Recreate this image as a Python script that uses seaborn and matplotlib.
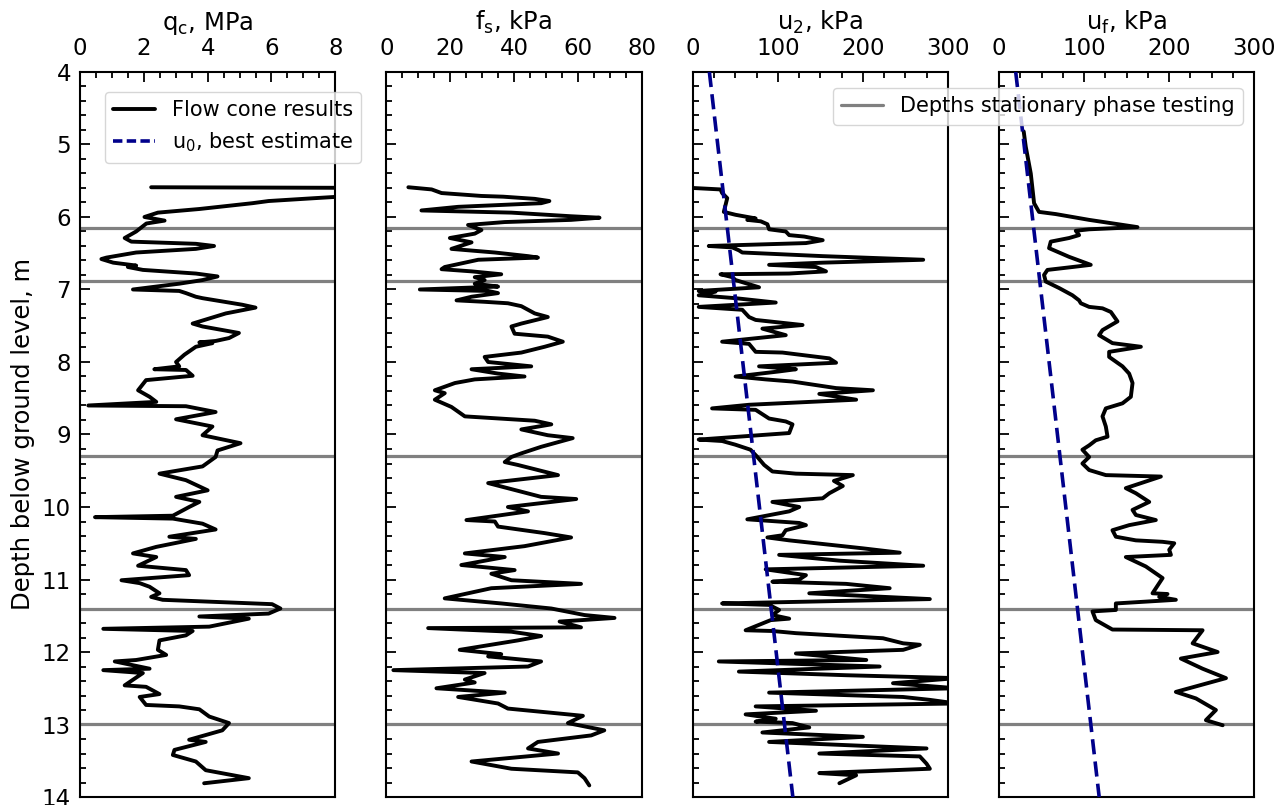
import matplotlib
matplotlib.use("Agg")
import matplotlib.pyplot as plt
import seaborn as sns
from matplotlib.ticker import MultipleLocator
from matplotlib.lines import Line2D

# ---------------- data ----------------
qc_depth = [5.59, 5.60, 5.67, 5.74, 5.78, 5.81, 5.89, 5.94, 6.00, 6.05, 6.09, 6.20, 6.29, 6.34,
            6.37, 6.40, 6.44, 6.49, 6.56, 6.58, 6.63, 6.67, 6.69, 6.73, 6.78, 6.82, 6.87, 6.92,
            7.00, 7.02, 7.05, 7.10, 7.12, 7.21, 7.25, 7.33, 7.47, 7.51, 7.60, 7.67, 7.71, 7.73,
            7.74, 7.79, 7.90, 8.00, 8.06, 8.10, 8.11, 8.19, 8.25, 8.39, 8.48, 8.55, 8.60, 8.61,
            8.69, 8.79, 8.89, 9.01, 9.12, 9.22, 9.31, 9.44, 9.54, 9.63, 9.77, 9.86, 9.93, 10.00,
            10.12, 10.14, 10.16, 10.23, 10.31, 10.41, 10.44, 10.55, 10.64, 10.69, 10.81, 10.87,
            10.94, 11.01, 11.05, 11.10, 11.19, 11.24, 11.28, 11.32, 11.34, 11.40, 11.47, 11.51,
            11.54, 11.65, 11.68, 11.71, 11.77, 11.84, 11.97, 12.04, 12.11, 12.13, 12.23, 12.25,
            12.29, 12.46, 12.48, 12.58, 12.62, 12.73, 12.75, 12.79, 12.89, 12.98, 13.08, 13.21,
            13.24, 13.35, 13.42, 13.51, 13.63, 13.74, 13.81]
qc_mpa = [2.23, 10.0, 10.0, 7.37, 5.91, 5.40, 3.74, 2.44, 2.02, 2.65, 2.08, 1.76, 1.40, 1.61,
          3.63, 4.20, 3.63, 1.76, 0.83, 0.67, 1.04, 1.76, 1.50, 1.97, 3.63, 4.31, 3.84, 3.11,
          1.66, 3.11, 3.32, 3.63, 3.84, 5.08, 5.50, 4.57, 3.53, 3.84, 4.98, 4.67, 4.25, 3.74,
          4.15, 3.63, 3.27, 3.01, 3.11, 2.33, 3.32, 3.53, 2.07, 1.82, 2.18, 2.39, 0.26, 3.32,
          4.25, 3.01, 4.15, 3.84, 5.03, 4.31, 4.25, 3.84, 2.49, 3.32, 4.00, 3.01, 3.74, 3.42,
          2.91, 0.47, 2.91, 3.84, 4.25, 2.80, 3.63, 2.39, 1.66, 2.39, 1.82, 3.32,
          3.42, 1.30, 1.87, 2.18, 2.49, 2.23, 2.59, 4.88, 6.02, 6.28, 5.91, 3.74,
          5.29, 4.05, 0.73, 3.53, 3.32, 2.49, 2.44, 2.70, 1.76, 1.09, 2.18, 0.73,
          1.97, 1.40, 2.07, 2.49, 1.87, 2.07, 3.11, 3.74, 4.05, 4.67, 4.46, 3.42,
          3.94, 2.96, 2.91, 3.63, 3.94, 5.29, 3.89]

fs_depth = [5.59, 5.62, 5.67, 5.71, 5.72, 5.75, 5.78, 5.81, 5.86, 5.91, 5.94, 5.99, 6.01, 6.04,
            6.07, 6.11, 6.18, 6.23, 6.29, 6.35, 6.44, 6.49, 6.54, 6.56, 6.59, 6.69, 6.72, 6.75,
            6.79, 6.83, 6.87, 6.92, 6.96, 7.00, 7.02, 7.05, 7.10, 7.15, 7.17, 7.19, 7.23, 7.33,
            7.38, 7.47, 7.51, 7.61, 7.65, 7.72, 7.79, 7.87, 7.93, 8.00, 8.06, 8.10, 8.16, 8.20,
            8.24, 8.29, 8.39, 8.43, 8.52, 8.62, 8.75, 8.81, 8.86, 8.93, 9.01, 9.05, 9.17, 9.26,
            9.31, 9.38, 9.42, 9.56, 9.67, 9.86, 9.89, 10.00, 10.06, 10.18, 10.20, 10.27, 10.36,
            10.42, 10.54, 10.64, 10.69, 10.80, 10.87, 10.92, 11.01, 11.06, 11.12, 11.26, 11.33,
            11.40, 11.49, 11.53, 11.58, 11.66, 11.67, 11.72, 11.78, 11.84, 11.97, 12.03, 12.06,
            12.13, 12.20, 12.25, 12.29, 12.38, 12.42, 12.50, 12.56, 12.62, 12.71, 12.78, 12.85,
            12.88, 12.98, 13.08, 13.15, 13.24, 13.33, 13.40, 13.51, 13.61, 13.66, 13.74, 13.84]
fs_kpa = [6.9, 14.2, 17.3, 29.8, 36.6, 46.5, 51.1, 48.5, 22.5, 11.0, 39.2, 57.9, 66.8, 57.9,
          37.1, 25.6, 29.8, 27.7, 19.9, 26.7, 20.4, 34.0, 44.4, 47.5, 28.8, 18.3, 17.3, 26.7,
          36.0, 27.7, 30.8, 27.7, 35.0, 10.5, 31.9, 35.0, 26.7, 22.0, 30.8, 38.1, 42.3, 46.5,
          50.6, 42.3, 39.2, 40.2, 50.6, 55.3, 49.6, 42.3, 30.8, 31.9, 45.4, 26.7, 35.0, 43.3,
          27.7, 21.5, 15.2, 18.3, 15.2, 20.4, 24.6, 46.5, 51.7, 42.3, 50.6, 58.4, 48.5, 42.3,
          39.2, 37.1, 41.2, 53.8, 31.9, 48.5, 59.5, 38.1, 44.4, 25.1, 34.0, 35.0, 49.6,
          57.9, 43.3, 24.6, 37.1, 23.5, 40.2, 32.9, 39.2, 61.0, 32.9, 18.3, 36.0,
          51.7, 62.1, 71.5, 54.3, 61.0, 13.1, 39.2, 48.5, 41.2, 23.0, 36.0, 31.9,
          48.5, 44.4, 2.2, 30.8, 24.6, 27.7, 15.7, 37.1, 22.5, 35.0, 38.1, 54.8,
          61.6, 56.9, 68.3, 64.2, 47.5, 44.4, 53.8, 26.7, 39.2, 60.0, 62.1, 63.6]

u2_depth = [5.60, 5.62, 5.67, 5.74, 5.93, 5.97, 6.02, 6.04, 6.06, 6.10, 6.17, 6.20, 6.25, 6.27,
            6.32, 6.36, 6.40, 6.42, 6.46, 6.49, 6.54, 6.59, 6.63, 6.66, 6.69, 6.75, 6.78, 6.79,
            6.83, 6.87, 6.97, 7.02, 7.03, 7.08, 7.12, 7.18, 7.24, 7.28, 7.38, 7.42, 7.49, 7.54,
            7.63, 7.72, 7.75, 7.86, 7.87, 7.95, 8.01, 8.06, 8.10, 8.13, 8.20, 8.24, 8.27, 8.36,
            8.39, 8.44, 8.52, 8.59, 8.64, 8.66, 8.78, 8.82, 8.86, 8.98, 9.07, 9.09, 9.14, 9.21,
            9.31, 9.42, 9.51, 9.54, 9.56, 9.64, 9.71, 9.81, 9.88, 9.93, 10.00, 10.06, 10.17,
            10.22, 10.25, 10.32, 10.39, 10.42, 10.46, 10.57, 10.63, 10.66, 10.74, 10.81, 10.86,
            10.94, 11.00, 11.03, 11.06, 11.12, 11.19, 11.27, 11.33, 11.35, 11.42, 11.49, 11.54,
            11.56, 11.70, 11.71, 11.74, 11.81, 11.88, 11.90, 11.97, 12.02, 12.11, 12.13, 12.20,
            12.27, 12.32, 12.36, 12.43, 12.50, 12.56, 12.62, 12.66, 12.71, 12.75, 12.81, 12.86,
            12.92, 12.96, 12.98, 13.04, 13.11, 13.17, 13.24, 13.33, 13.40, 13.44, 13.54, 13.61,
            13.67, 13.70, 13.81]
u2_kpa = [0.0, 32.7, 34.6, 40.6, 36.6, 50.4, 74.0, 64.2, 80.0, 87.8, 89.8, 109.4, 113.4, 131.1,
          152.8, 133.0, 18.9, 46.5, 54.3, 58.3, 152.8, 270.9, 152.8, 89.8, 144.9, 156.7, 113.4, 32.7,
          46.5, 50.4, 78.0, 7.1, 26.8, 7.1, 50.4, 97.6, 7.1, 58.3, 66.2, 74.0, 129.1, 81.9,
          109.4, 34.6, 66.2, 74.0, 105.5, 160.6, 168.5, 78.0, 121.3, 101.6, 50.4, 85.8, 117.3, 168.5,
          211.8, 148.8, 192.1, 66.2, 22.8, 74.0, 89.8, 109.4, 117.3, 113.4, 7.1, 34.6, 50.0, 68.0,
          76.0, 84.0, 93.7, 121.3, 188.2, 166.0, 176.4, 160.6, 152.8, 93.7, 125.2, 113.4, 64.2,
          125.2, 133.1, 109.4, 105.5, 87.8, 113.4, 200.0, 243.3, 101.6, 172.4, 270.9, 85.8,
          133.1, 125.2, 93.7, 180.3, 231.5, 137.0, 278.7, 34.6, 89.8, 101.6, 93.7, 113.4,
          91.7, 62.2, 93.7, 121.3, 223.6, 247.3, 266.9, 247.3, 121.3, 204.0, 30.7, 219.7,
          54.3, 180.3, 310.0, 235.4, 310.0, 89.8, 247.3, 278.7, 310.0, 74.0, 144.9, 62.2,
          97.6, 74.0, 117.3, 137.0, 81.9, 200.0, 89.8, 274.8, 148.8, 266.9, 274.8, 278.7,
          148.8, 192.1, 172.4]

uf_depth = [4.82, 5.03, 5.40, 5.81, 5.93, 5.96, 6.04, 6.14, 6.17, 6.19, 6.25, 6.29, 6.34, 6.43,
            6.55, 6.66, 6.69, 6.73, 6.80, 6.89, 6.98, 7.08, 7.15, 7.19, 7.24, 7.26, 7.31, 7.44,
            7.56, 7.63, 7.74, 7.79, 7.86, 7.93, 8.06, 8.16, 8.29, 8.48, 8.57, 8.64, 8.75, 8.89,
            9.03, 9.08, 9.15, 9.21, 9.31, 9.40, 9.49, 9.56, 9.58, 9.74, 9.81, 9.93, 10.04, 10.11,
            10.18, 10.25, 10.32, 10.41, 10.46, 10.48, 10.50, 10.59, 10.66, 10.69, 10.82, 10.98,
            11.19, 11.20, 11.24, 11.28, 11.33, 11.42, 11.44, 11.56, 11.69, 11.70, 11.88, 12.00,
            12.09, 12.23, 12.36, 12.55, 12.64, 12.80, 12.94, 13.01]
uf_kpa = [29.0, 31.4, 37.3, 41.2, 47.0, 66.7, 105.9, 162.7, 105.9, 90.2, 94.1, 82.4, 60.8, 58.8,
          82.4, 107.8, 86.3, 56.9, 52.9, 54.9, 70.6, 86.3, 94.1, 96.1, 105.9, 121.6, 131.4, 139.2,
          121.6, 117.6, 133.3, 166.7, 129.4, 129.4, 145.1, 152.9, 156.9, 154.9, 145.1, 125.5, 121.6, 125.5,
          127.5, 113.7, 105.9, 98.0, 105.9, 98.0, 105.9, 125.5, 190.2, 149.0, 160.8, 176.5, 156.9, 160.8,
          184.3, 153.0, 133.3, 137.3, 160.8, 192.2, 205.9, 200.0, 202.0, 149.0, 172.5, 192.2,
          180.4, 198.0, 188.2, 207.8, 137.3, 137.3, 109.8, 113.7, 133.3, 239.2, 227.5, 256.9,
          213.7, 239.2, 266.7, 207.8, 231.4, 254.9, 243.1, 262.8]

u0_depth = [4.0, 14.0]
u0_kpa = [19.6, 117.7]

stationary_depths = [6.15, 6.88, 9.30, 11.41, 12.99]

panel_titles = ["q$_c$, MPa", "f$_s$, kPa", "u$_2$, kPa", "u$_f$, kPa"]
panel_xmax = [8, 80, 300, 300]
panel_major = [2, 20, 100, 100]
panel_minor = [0.5, 5, 25, 25]

legend_labels = ["Flow cone results", "u$_0$, best estimate", "Depths stationary phase testing"]

# ---------------- style ----------------
sns.set_theme(style="white")
plt.rcParams.update({
    "font.family": ["DejaVu Sans"],
    "mathtext.default": "regular",
    "axes.edgecolor": "black",
    "axes.linewidth": 1.5,
    "xtick.color": "black",
    "ytick.color": "black",
    "text.color": "black",
    "axes.labelcolor": "black",
})

FS_LEG = 15
FS_TICK = 16.5
FS_LABEL = 17.5
BLACK_LW = 2.8
GRAY = "#808080"
NAVY = "#00008B"

fig, axes = plt.subplots(1, 4, figsize=(12.76, 8.05), dpi=100, sharey=True)
fig.subplots_adjust(left=0.0627, right=0.983, top=0.9106, bottom=0.0099, wspace=0.2)

series = [(qc_mpa, qc_depth), (fs_kpa, fs_depth), (u2_kpa, u2_depth), (uf_kpa, uf_depth)]

for i, ax in enumerate(axes):
    for d in stationary_depths:
        ax.axhline(d, color=GRAY, lw=2.3, zorder=1)
    if i >= 2:
        sns.lineplot(x=u0_kpa, y=u0_depth, ax=ax, color=NAVY, lw=2.6,
                     linestyle=(0, (4.2, 2.0)), sort=False, estimator=None, zorder=3)
    xv, yv = series[i]
    sns.lineplot(x=xv, y=yv, ax=ax, color="black", lw=BLACK_LW, sort=False,
                 estimator=None, zorder=2)

    ax.set_xlim(0, panel_xmax[i])
    ax.set_ylim(14, 4)
    ax.xaxis.set_major_locator(MultipleLocator(panel_major[i]))
    ax.xaxis.set_minor_locator(MultipleLocator(panel_minor[i]))
    ax.yaxis.set_major_locator(MultipleLocator(1))
    ax.yaxis.set_minor_locator(MultipleLocator(0.2))
    ax.xaxis.tick_top()
    ax.xaxis.set_label_position("top")
    ax.set_xlabel(panel_titles[i], fontsize=FS_LABEL, labelpad=5)
    ax.set_ylabel("")
    ax.tick_params(which="both", direction="in", top=True, bottom=False,
                   left=True, right=False, labelsize=FS_TICK)
    ax.tick_params(which="major", length=7, width=1.3)
    ax.tick_params(which="minor", length=4, width=1.3)
    ax.tick_params(axis="x", which="major", pad=8.5)
    ax.tick_params(axis="y", which="major", pad=6.5)
    for s in ax.spines.values():
        s.set_visible(True)
        s.set_color("black")
        s.set_linewidth(1.5)

axes[0].set_ylabel("Depth below ground level, m", fontsize=FS_LABEL, labelpad=5)

h1 = Line2D([], [], color="black", lw=BLACK_LW)
h2 = Line2D([], [], color=NAVY, lw=2.6, linestyle=(0, (2.6, 1.2)))
h3 = Line2D([], [], color=GRAY, lw=2.3)

axes[0].legend(handles=[h1, h2], labels=legend_labels[:2], loc="upper left",
               bbox_to_anchor=(105 / 1276, 1 - 92 / 805), bbox_transform=fig.transFigure,
               borderaxespad=0, fontsize=FS_LEG, framealpha=0.8, edgecolor="#cccccc",
               fancybox=True)
fig.legend(handles=[h3], labels=[legend_labels[2]], loc="upper left",
           bbox_to_anchor=(833 / 1276, 1 - 88 / 805), bbox_transform=fig.transFigure,
           borderaxespad=0, fontsize=FS_LEG, framealpha=0.8, edgecolor="#cccccc",
           fancybox=True)

fig.savefig("out.png", dpi=100)
